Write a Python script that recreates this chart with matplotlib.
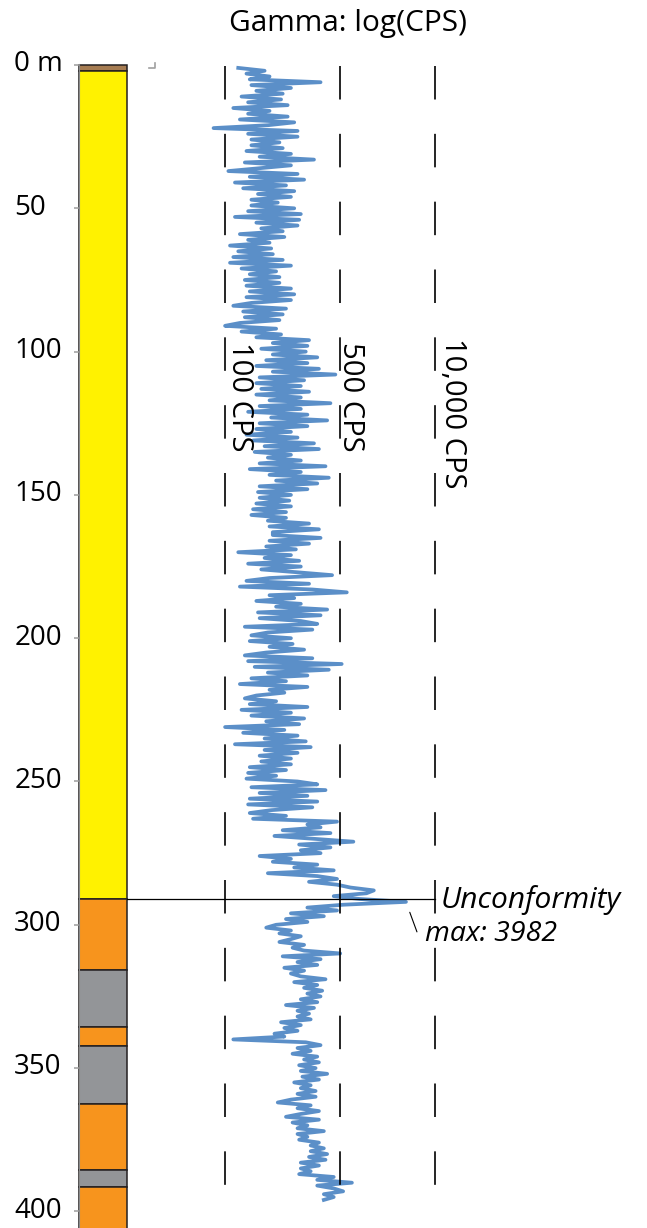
import numpy as np
import matplotlib.pyplot as plt
from matplotlib import transforms

plt.rcParams['font.family'] = ['Open Sans', 'DejaVu Sans']

# lithology column: layer top / bottom (m) and fill colour
layer_top = [0, 2, 291, 315.9, 335.5, 342.3, 362.6, 385.7, 391.5]
layer_bot = [2, 291, 315.9, 335.5, 342.3, 362.6, 385.7, 391.5, 410]
layer_col = ['#a67c52', '#fff200', '#f7941d', '#939598', '#f7941d',
             '#939598', '#f7941d', '#939598', '#f7941d']

depth_ticks = [0, 50, 100, 150, 200, 250, 300, 350, 400]
depth_labels = ['0 m', '50', '100', '150', '200', '250', '300', '350', '400']

# gamma log, log10(CPS), one reading per metre starting at 1 m
gamma_top = 1
gamma = [
    2.08, 2.24, 2.13, 2.27, 2.15, 2.58, 2.16, 2.40, 2.19, 2.35,
    2.10, 2.34, 2.14, 2.38, 2.05, 2.27, 2.14, 2.38, 2.09, 2.42,
    2.26, 1.93, 2.44, 2.14, 2.44, 2.16, 2.33, 2.16, 2.35, 2.13,
    2.40, 2.21, 2.54, 2.12, 2.40, 2.21, 2.02, 2.44, 2.15, 2.48,
    2.06, 2.37, 2.11, 2.42, 2.20, 2.40, 2.16, 2.32, 2.16, 2.42,
    2.14, 2.46, 2.06, 2.45, 2.19, 2.44, 2.22, 2.35, 2.09, 2.36,
    2.14, 2.27, 2.03, 2.28, 2.08, 2.29, 2.05, 2.35, 2.03, 2.40,
    2.10, 2.31, 2.15, 2.33, 2.12, 2.33, 2.13, 2.40, 2.15, 2.42,
    2.13, 2.40, 2.16, 2.05, 2.37, 2.11, 2.35, 2.12, 2.33, 2.09,
    2.00, 2.31, 2.10, 2.34, 2.19, 2.51, 2.29, 2.50, 2.22, 2.49,
    2.29, 2.56, 2.25, 2.50, 2.19, 2.57, 2.29, 2.67, 2.21, 2.48,
    2.19, 2.46, 2.22, 2.51, 2.19, 2.46, 2.27, 2.64, 2.21, 2.46,
    2.14, 2.50, 2.28, 2.62, 2.21, 2.50, 2.19, 2.40, 2.13, 2.44,
    2.17, 2.54, 2.24, 2.57, 2.18, 2.40, 2.26, 2.46, 2.21, 2.61,
    2.15, 2.46, 2.27, 2.63, 2.31, 2.56, 2.21, 2.50, 2.20, 2.40,
    2.21, 2.39, 2.19, 2.40, 2.17, 2.37, 2.16, 2.37, 2.26, 2.51,
    2.27, 2.57, 2.29, 2.29, 2.58, 2.27, 2.51, 2.25, 2.43, 2.08,
    2.40, 2.24, 2.45, 2.14, 2.46, 2.22, 2.44, 2.65, 2.27, 2.13,
    2.51, 2.09, 2.53, 2.79, 2.27, 2.42, 2.19, 2.46, 2.31, 2.62,
    2.20, 2.58, 2.21, 2.46, 2.56, 2.12, 2.53, 2.26, 2.16, 2.40,
    2.15, 2.41, 2.27, 2.48, 2.25, 2.12, 2.53, 2.14, 2.72, 2.18,
    2.63, 2.26, 2.50, 2.16, 2.37, 2.09, 2.50, 2.27, 2.36, 2.19,
    2.12, 2.31, 2.15, 2.50, 2.10, 2.40, 2.16, 2.48, 2.25, 2.45,
    2.00, 2.36, 2.11, 2.44, 2.24, 2.49, 2.06, 2.52, 2.24, 2.44,
    2.21, 2.40, 2.22, 2.40, 2.15, 2.37, 2.14, 2.31, 2.13, 2.44,
    2.56, 2.16, 2.61, 2.21, 2.50, 2.15, 2.56, 2.14, 2.53, 2.28,
    2.15, 2.37, 2.17, 2.68, 2.50, 2.58, 2.35, 2.64, 2.30, 2.54,
    2.88, 2.45, 2.64, 2.46, 2.58, 2.21, 2.40, 2.29, 2.56, 2.42,
    2.66, 2.26, 2.56, 2.68, 2.51, 2.68, 2.84, 3.16, 3.06, 2.66,
    2.97, 3.60, 2.74, 2.50, 2.68, 2.40, 2.60, 2.37, 2.50, 2.31,
    2.25, 2.40, 2.33, 2.46, 2.40, 2.33, 2.48, 2.41, 2.48, 2.70,
    2.35, 2.58, 2.44, 2.56, 2.36, 2.48, 2.40, 2.46, 2.61, 2.42,
    2.56, 2.48, 2.59, 2.50, 2.58, 2.46, 2.56, 2.37, 2.54, 2.44,
    2.51, 2.44, 2.52, 2.34, 2.46, 2.36, 2.44, 2.30, 2.36, 2.05,
    2.49, 2.58, 2.44, 2.52, 2.41, 2.56, 2.48, 2.57, 2.45, 2.55,
    2.46, 2.62, 2.47, 2.57, 2.42, 2.52, 2.46, 2.55, 2.44, 2.55,
    2.40, 2.32, 2.52, 2.44, 2.57, 2.46, 2.37, 2.57, 2.41, 2.50,
    2.44, 2.60, 2.44, 2.50, 2.45, 2.57, 2.52, 2.60, 2.52, 2.62,
    2.51, 2.61, 2.46, 2.57, 2.46, 2.52, 2.45, 2.66, 2.56, 2.86,
    2.56, 2.66, 2.74, 2.60, 2.66, 2.60,
]

ref_cps = [100, 500, 10000]
ref_labels = ['100 CPS', '500 CPS', '10,000 CPS']
unconformity = 291.0
gamma_max = 3982

# the x axis is stretched below 500 CPS and compressed above it
L500 = np.log10(500)
K = 0.4438


def fwd(v):
    v = np.asarray(v, float)
    return np.where(v <= L500, v, L500 + (v - L500) * K)


def inv(v):
    v = np.asarray(v, float)
    return np.where(v <= L500, v, L500 + (v - L500) / K)


W, H = 647, 1228
top_px = 63.6
fig = plt.figure(figsize=(W / 100, H / 100), dpi=100)
axc = fig.add_axes([79 / W, 0, 47.5 / W, (H - top_px) / H])
axg = fig.add_axes([126.5 / W, 0, (W - 126.5) / W, (H - top_px) / H], sharey=axc)

# lithology column
axc.bar(0, np.subtract(layer_bot, layer_top), bottom=layer_top, width=1,
        align='edge', color=layer_col, edgecolor='#231f20', linewidth=1.1,
        clip_on=False)
axc.set_xlim(0, 1)
axc.set_ylim(405.8, -0.5)
for s in ['top', 'right', 'bottom']:
    axc.spines[s].set_visible(False)
axc.spines['left'].set_color('#8a8a8a')
axc.set_xticks([])
axc.set_yticks(depth_ticks, depth_labels)
axc.tick_params(axis='y', length=3.6, width=1.1, color='#9d9d9d', pad=43,
                labelsize=20)
lift = transforms.ScaledTranslation(0, 3 / 72, fig.dpi_scale_trans)
for lab in axc.get_yticklabels():
    lab.set_horizontalalignment('left')
    lab.set_transform(lab.get_transform() + lift)

# gamma track
axg.set_xscale('function', functions=(fwd, inv))
axg.set_xlim(1.401, 6.90)
axg.axis('off')

depth = gamma_top + np.arange(len(gamma))
axg.plot(gamma, depth, color='#5b8fc8', lw=2.7, zorder=2)

for c in ref_cps:
    axg.plot([np.log10(c)] * 2, [0.35, 390.8], color='black', lw=1.2,
             ls=(0, (20.1, 20.6)), zorder=3)

offsets = [(7, 96.6), (3, 96.6), (10, 95.3)]
for c, lab, (dx, d) in zip(ref_cps, ref_labels, offsets):
    axg.annotate(lab, xy=(np.log10(c), d), xytext=(dx, 0),
                 textcoords='offset pixels', rotation=270,
                 rotation_mode='anchor', ha='left', va='baseline',
                 fontsize=21)

axg.plot([1.401, np.log10(ref_cps[-1])], [unconformity, unconformity],
         color='black', lw=0.9, zorder=4)
axg.annotate('Unconformity', xy=(np.log10(ref_cps[-1]), unconformity),
             xytext=(5, -9), textcoords='offset pixels', ha='left',
             va='baseline', style='italic', fontsize=21.5)

i_max = int(np.argmax(gamma))
peak = (gamma[i_max], depth[i_max])
axg.annotate('', xy=peak, xytext=(11, -30), textcoords='offset pixels',
             arrowprops=dict(arrowstyle='-', shrinkA=0, shrinkB=8, lw=0.8))
axg.annotate(f'max: {gamma_max}', xy=peak, xytext=(19, -39),
             textcoords='offset pixels', ha='left', va='baseline',
             style='italic', fontsize=20.5)

# little grey corner mark at the top of the track
axg.plot([1.538, 1.574, 1.574], [1.05, 1.05, -0.7], color='#a0a0a0', lw=1.2,
         clip_on=False)

fig.text(348 / W, 1 - 31 / H, 'Gamma: log(CPS)', ha='center', va='baseline',
         fontsize=21.5)

fig.savefig('out.png', dpi=100)
